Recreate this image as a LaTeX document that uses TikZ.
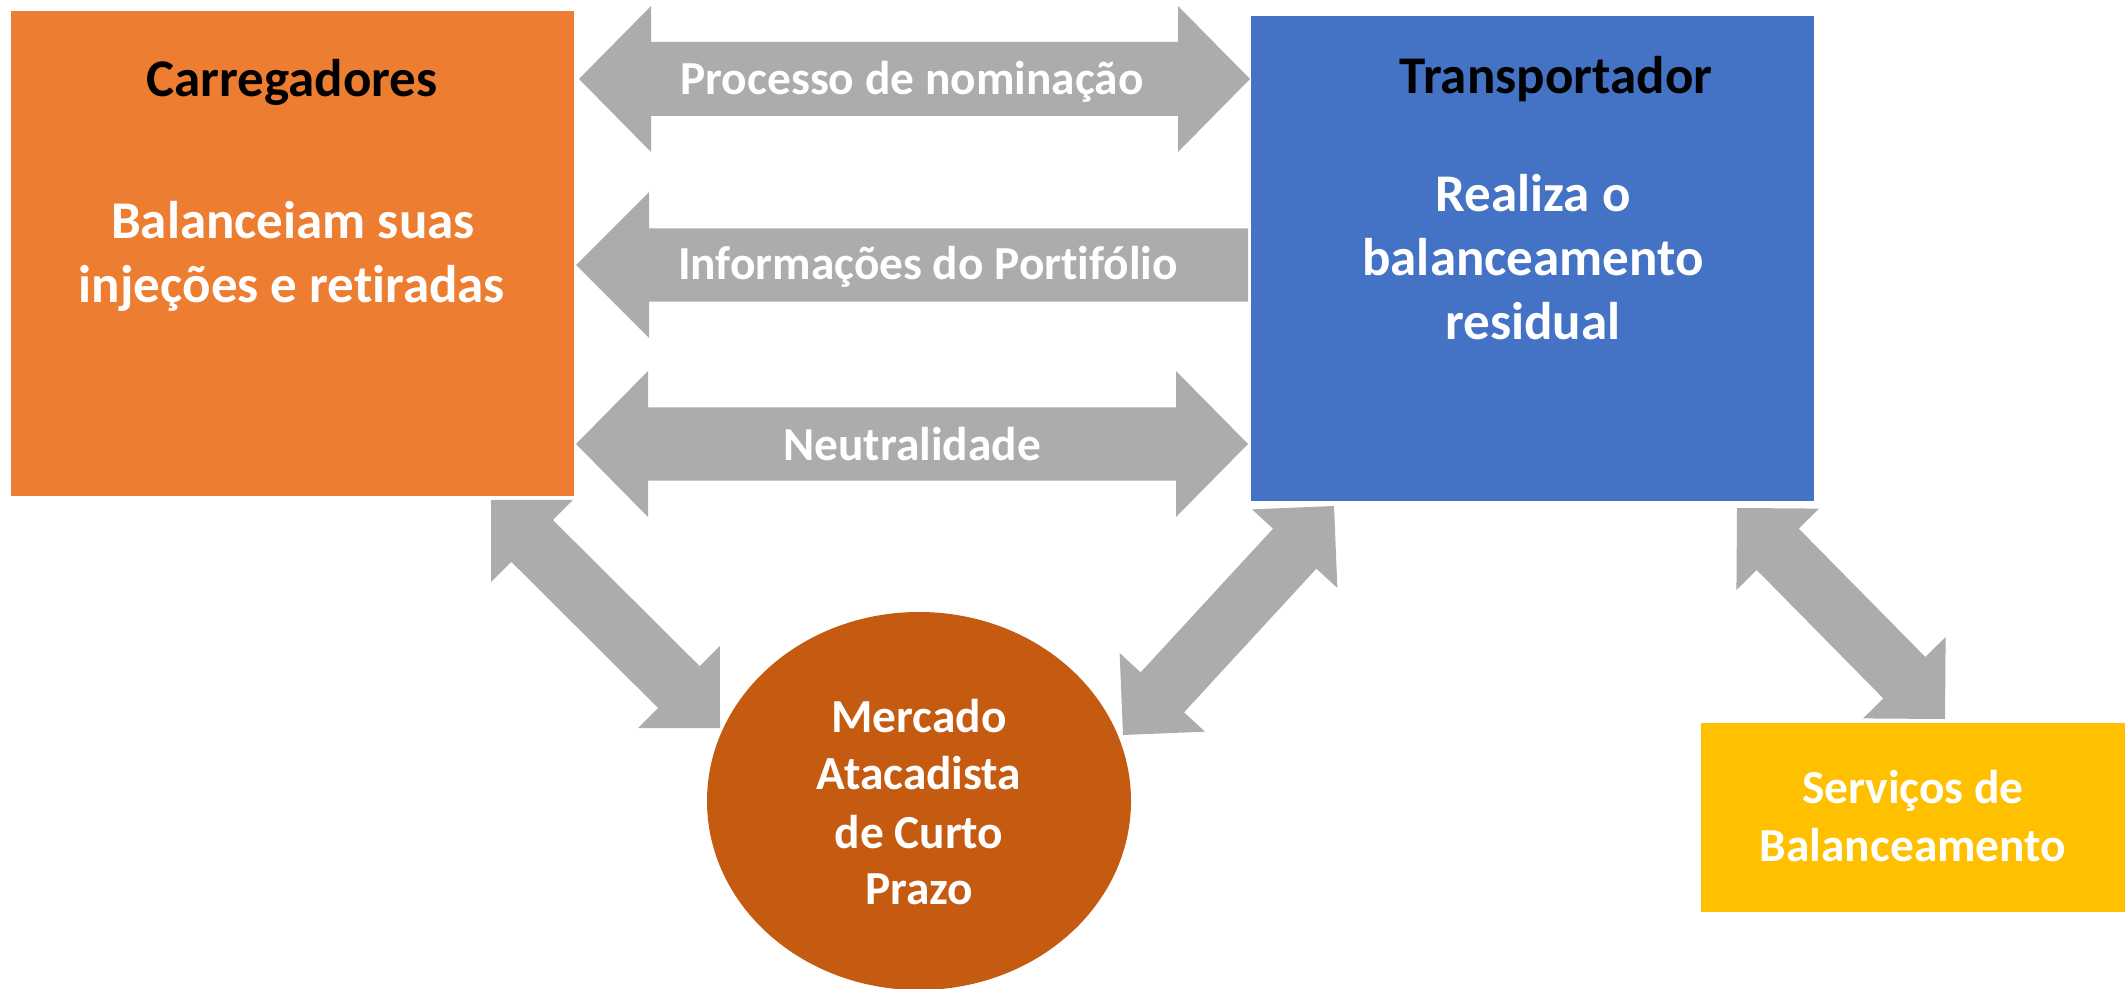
\documentclass[tikz,border=0pt]{standalone}
\usepackage{fontspec}
\setmainfont{Carlito}[Ligatures={NoCommon}]
\usetikzlibrary{calc,shapes.geometric}
\definecolor{orangeC}{HTML}{ED7D31}
\definecolor{blueC}{HTML}{4472C4}
\definecolor{yellowC}{HTML}{FFC000}
\definecolor{rustC}{HTML}{C55A11}
\definecolor{arrowgray}{HTML}{AEABAB}
\tikzset{
  box/.style={draw=none, inner sep=0pt, outer sep=0pt},
  titletxt/.style={font=\fontsize{26.5}{32}\selectfont\bfseries, text=black, anchor=base, inner sep=0pt},
  bodytxt/.style={font=\fontsize{26.5}{32}\selectfont\bfseries, text=white, anchor=base, inner sep=0pt},
  lbltxt/.style={font=\fontsize{23.7}{28}\selectfont\bfseries, text=white, anchor=base, inner sep=0pt},
  blockarrow/.style={fill=arrowgray, draw=none}
}
% double block arrow: #1 tip, #2 tip, #3 head length, #4 head half-width, #5 shaft half-width
\newcommand{\dblblock}[5]{%
  \coordinate (#1h) at ($(#1)!#3!(#2)$);
  \coordinate (#2h) at ($(#2)!#3!(#1)$);
  \fill[blockarrow] (#1) -- ($(#1h)!#4!90:(#2)$) -- ($(#1h)!#5!90:(#2)$)
    -- ($(#2h)!#5!-90:(#1)$) -- ($(#2h)!#4!-90:(#1)$) -- (#2)
    -- ($(#2h)!#4!90:(#1)$) -- ($(#2h)!#5!90:(#1)$)
    -- ($(#1h)!#5!-90:(#2)$) -- ($(#1h)!#4!-90:(#2)$) -- cycle;
}
% single block arrow, head at #1, flat end at #2
\newcommand{\sglblock}[5]{%
  \coordinate (#1h) at ($(#1)!#3!(#2)$);
  \fill[blockarrow] (#1) -- ($(#1h)!#4!90:(#2)$) -- ($(#1h)!#5!90:(#2)$)
    -- ($(#2)!#5!-90:(#1)$) -- ($(#2)!#5!90:(#1)$)
    -- ($(#1h)!#5!-90:(#2)$) -- ($(#1h)!#4!-90:(#2)$) -- cycle;
}
\begin{document}
\begin{tikzpicture}[x=0.5pt,y=-0.5pt]
\useasboundingbox (0,0) rectangle (2128,989);

% boxes
\node[box, fill=orangeC, minimum width=281.5pt, minimum height=242.5pt] (carr) at (292.5,253.5) {};
\node[box, fill=blueC, minimum width=281.5pt, minimum height=242.5pt] (transp) at (1532.5,258.5) {};
\node[box, fill=yellowC, minimum width=212pt, minimum height=94.5pt] (serv) at (1913,817.5) {};
\node[box, ellipse, fill=rustC, minimum width=212pt, minimum height=189pt] (merc) at (919,801) {};

% texts
\node[titletxt] (carrT) at (292,97) {Carregadores};
\node[bodytxt] (carrB1) at (293,239) {Balanceiam suas};
\node[bodytxt] (carrB2) at (292,303) {injeções e retiradas};

\node[titletxt] (transpT) at (1556,94) {Transportador};
\node[bodytxt] (transpB1) at (1533,212) {Realiza o};
\node[bodytxt] (transpB2) at (1533,276) {balanceamento};
\node[bodytxt] (transpB3) at (1533,340) {residual};

\node[lbltxt] (mercT1) at (919,732) {Mercado};
\node[lbltxt] (mercT2) at (919,789) {Atacadista};
\node[lbltxt] (mercT3) at (919,848) {de Curto};
\node[lbltxt] (mercT4) at (919,904) {Prazo};

\node[lbltxt] (servT1) at (1913,803) {Serviços de};
\node[lbltxt] (servT2) at (1913,861) {Balanceamento};

% arrow end points
\coordinate (a1L) at (579,79);   \coordinate (a1R) at (1250,79);
\coordinate (a2L) at (576,265);  \coordinate (a2R) at (1248,265);
\coordinate (a3L) at (576,444);  \coordinate (a3R) at (1248,444);
\coordinate (dAu) at (491,500);  \coordinate (dAd) at (720,728);
\coordinate (dBu) at (1334,506); \coordinate (dBd) at (1123,735);
\coordinate (dCu) at (1737,508); \coordinate (dCd) at (1945,719);

\dblblock{a1L}{a1R}{36pt}{36.5pt}{18.5pt}
\sglblock{a2L}{a2R}{36.5pt}{36.5pt}{18.3pt}
\dblblock{a3L}{a3R}{36pt}{36.5pt}{18.3pt}
\dblblock{dAu}{dAd}{29pt}{29pt}{14.75pt}
\dblblock{dBu}{dBd}{29pt}{29pt}{14.75pt}
\dblblock{dCu}{dCd}{29pt}{29pt}{14.75pt}

\node[lbltxt] (lbl1) at (912,95) {Processo de nominação};
\node[lbltxt] (lbl2) at (928,280) {Informações do Portifólio};
\node[lbltxt] (lbl3) at (912,460) {Neutralidade};
\end{tikzpicture}
\end{document}
